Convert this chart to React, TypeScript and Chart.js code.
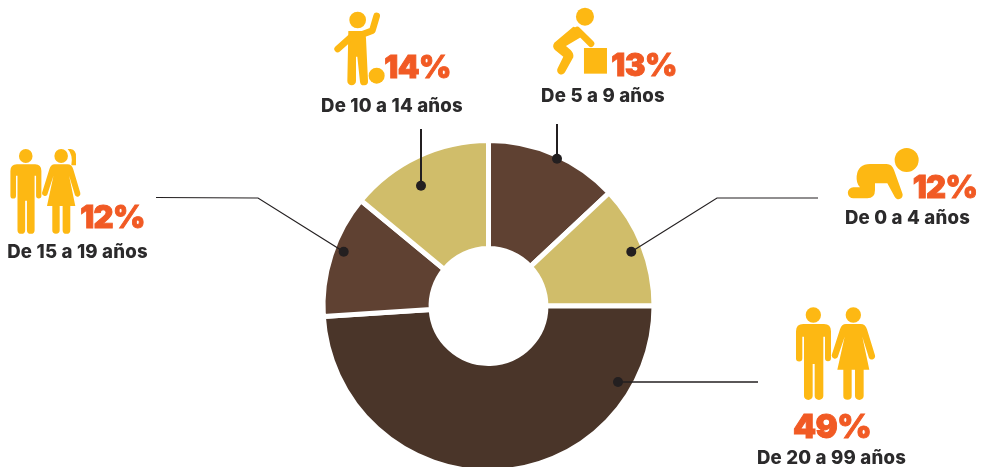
import React, { useEffect, useRef } from "react";
import { Chart, registerables } from "chart.js";

Chart.register(...registerables);

const categories = ["De 5 a 9 años", "De 0 a 4 años", "De 20 a 99 años", "De 15 a 19 años", "De 10 a 14 años"];
const shares = [13, 12, 49, 12, 14];
const sliceColors = ["#5f4132", "#d0bd6a", "#4a3529", "#5f4132", "#d0bd6a"];

const YELLOW = "#fdb813";
const ORANGE = "#f15a24";
const INK = "#231f20";
const LABEL_FONT = "Inter, 'Open Sans', sans-serif";

// [share text, x, y] and [category text, x, y], in order of `categories`
const pctPos: [number, number][] = [[644, 75.5], [945, 198], [832, 438], [112.5, 228], [417.5, 78]];
const labelPos: [number, number][] = [[603, 102], [907.5, 223.5], [831.5, 463.5], [77.5, 258], [392, 112]];

// Leader lines: polyline and width
const leaders: { pts: string; w: number }[] = [
  { pts: "557,124 557,158.7", w: 2 },
  { pts: "631.3,251.7 717,198 818,198", w: 1.2 },
  { pts: "618,382 758,382", w: 1.6 },
  { pts: "343.7,251.7 258,198 156,197.5", w: 1.2 },
  { pts: "421,129 421,185.7", w: 2 },
];

function Man() {
  return (
    <g fill={YELLOW}>
      <circle cx="190" cy="45" r="23" />
      <path d="M160 72 H222 Q243 72 243 94 V175 A9 9 0 0 1 225 175 V110 H220 V288 A12 11 0 0 1 194 288 V192 H188 V288 A12 11 0 0 1 162 288 V110 H157 V175 A9 9 0 0 1 138 175 V94 Q138 72 160 72 Z" />
    </g>
  );
}

function Woman() {
  return (
    <g fill={YELLOW}>
      <circle cx="310" cy="45" r="23" />
      <path d="M288 72 H332 Q346 72 351 88 L375 166 A10 10 0 0 1 357 174 L337 110 L358 209 H341 V288 A12 11 0 0 1 315 288 V209 H305 V288 A12 11 0 0 1 280 288 V209 H262 L284 110 L263 172 A10 10 0 0 1 245 166 L270 88 Q275 72 288 72 Z" />
    </g>
  );
}

function Icons() {
  return (
    <>
      {/* 10-14: child with ball */}
      <g transform="translate(320 0) scale(0.3333)" fill={YELLOW} stroke="none">
        <circle cx="113" cy="60" r="25" />
        <circle cx="170" cy="227" r="24" />
        <path d="M85 93 H135 L138 115 L144 243 A12 12 0 0 1 120 245 L112 170 H108 V243 A13 13 0 0 1 82 243 Z" />
        <g fill="none" stroke={YELLOW} strokeWidth="20" strokeLinecap="round" strokeLinejoin="round">
          <polyline points="125,104 157,92 170,48" />
          <line x1="100" y1="105" x2="53" y2="147" />
        </g>
      </g>
      {/* 5-9: child with box */}
      <g transform="translate(320 0) scale(0.3333)" fill={YELLOW}>
        <circle cx="795" cy="50" r="27" />
        <rect x="792" y="144" width="69" height="77" />
        <path d="M760 80 L703 128 Q695 140 705 150 L730 170 L713 205 A12 12 0 0 0 735 217 L760 172 Q762 160 752 150 L738 138 L785 110 Q790 85 760 80 Z" />
        <line x1="772" y1="90" x2="813" y2="131" stroke={YELLOW} strokeWidth="20" strokeLinecap="round" />
      </g>
      {/* 0-4: crawling baby */}
      <g transform="translate(830 140) scale(0.3333)" fill={YELLOW}>
        <circle cx="230" cy="60" r="36" />
        <path d="M80 108 Q84 72 120 72 H170 Q186 72 192 90 L217 160 A12 12 0 0 1 194 170 L172 130 H135 V150 Q135 175 112 175 H70 A16 16 0 0 1 70 142 H90 Q78 130 80 108 Z" />
      </g>
      {/* 15-19: couple */}
      <g transform="translate(-30.3 142.3) scale(0.295 0.305)">
        <Man />
        <Woman />
      </g>
      <g transform="translate(0 140) scale(0.3333)" fill={YELLOW}>
        <path d="M203 27 H212 Q229 30 228 50 V76 H214 Q220 45 203 27 Z" />
      </g>
      {/* 20-99: couple */}
      <g transform="translate(750 300) scale(0.3333)">
        <Man />
        <Woman />
      </g>
    </>
  );
}

export default function App() {
  const ref = useRef<HTMLCanvasElement>(null);

  useEffect(() => {
    if (!ref.current) return;
    const chart = new Chart(ref.current, {
      type: "doughnut",
      data: {
        labels: categories,
        datasets: [
          {
            data: shares,
            backgroundColor: sliceColors,
            borderColor: "#ffffff",
            borderWidth: 5,
            hoverOffset: 0,
          },
        ],
      },
      options: {
        responsive: false,
        animation: false,
        radius: 165.5,
        cutout: "34.7%",
        rotation: 0,
        layout: { padding: 0 },
        plugins: { legend: { display: false }, tooltip: { enabled: false }, title: { display: false } },
      } as any,
    });
    return () => chart.destroy();
  }, []);

  return (
    <div style={{ position: "fixed", left: 0, top: 0, width: 983, height: 467, overflow: "hidden", background: "#fff" }}>
      <canvas ref={ref} width={977} height={612} style={{ position: "absolute", left: 0, top: 0, width: 977, height: 612 }} />
      <svg width={983} height={467} viewBox="0 0 983 467" style={{ position: "absolute", left: 0, top: 0 }}>
        {leaders.map((l, i) => {
          const parts = l.pts.split(" ");
          const anchor = i === 0 || i === 4 ? parts[parts.length - 1] : parts[0];
          const [cx, cy] = anchor.split(",");
          return (
            <g key={i}>
              <polyline points={l.pts} fill="none" stroke={INK} strokeWidth={l.w} />
              <circle cx={cx} cy={cy} r={5} fill={INK} />
            </g>
          );
        })}
        <Icons />
        {categories.map((c, i) => (
          <g key={c}>
            <text
              x={pctPos[i][0]}
              y={pctPos[i][1]}
              textAnchor="middle"
              fontFamily={LABEL_FONT}
              fontWeight={900}
              fontSize={i === 2 ? 33 : 31}
              letterSpacing={-0.6}
              stroke={ORANGE}
              strokeWidth={0.9}
              fill={ORANGE}
            >
              {shares[i]}%
            </text>
            <text
              x={labelPos[i][0]}
              y={labelPos[i][1]}
              textAnchor="middle"
              fontFamily={LABEL_FONT}
              fontWeight={800}
              fontSize={18.6}
              letterSpacing={0.2}
              fill="#2b2a2b"
            >
              {c}
            </text>
          </g>
        ))}
      </svg>
    </div>
  );
}
